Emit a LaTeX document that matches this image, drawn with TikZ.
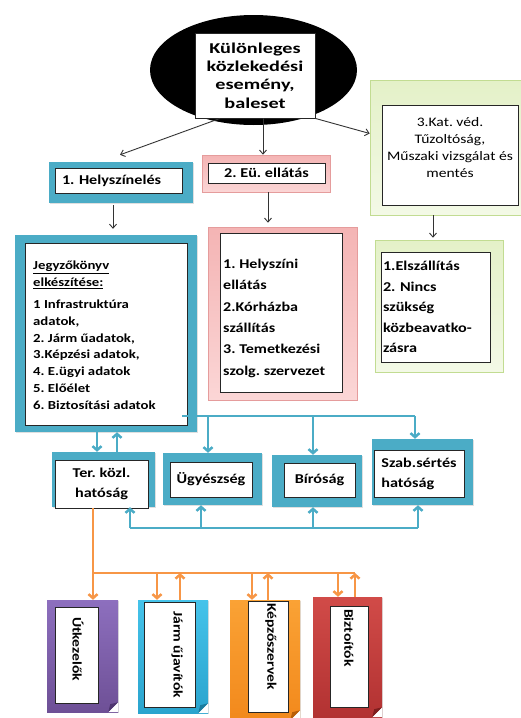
\documentclass[tikz,border=0pt]{standalone}
\usepackage{fontspec}
\setmainfont[FakeStretch=1.2]{Carlito}
\newfontfamily\topfont[FakeStretch=1.35]{Carlito}
\frenchspacing
\usetikzlibrary{shapes.geometric,arrows.meta,shadows,calc}
\definecolor{tealC}{HTML}{4BACC6}
\definecolor{orangeL}{HTML}{F79646}
\definecolor{pinkT}{HTML}{F4B4B4}
\definecolor{pinkB}{HTML}{FBD6D6}
\definecolor{pinkD}{HTML}{E59C9C}
\definecolor{greenT}{HTML}{E4F1C8}
\definecolor{greenB}{HTML}{F3F9E6}
\definecolor{greenD}{HTML}{C2DC92}
\definecolor{purpT}{HTML}{8D6FBE}
\definecolor{purpB}{HTML}{6E5096}
\definecolor{purpD}{HTML}{4E3570}
\definecolor{blueT}{HTML}{45C3EA}
\definecolor{blueB}{HTML}{2AA4CE}
\definecolor{blueD}{HTML}{1A7C9E}
\definecolor{oranT}{HTML}{FAA235}
\definecolor{oranB}{HTML}{F2891C}
\definecolor{oranD}{HTML}{B85F08}
\definecolor{redT}{HTML}{D14B48}
\definecolor{redB}{HTML}{B23232}
\definecolor{redD}{HTML}{7E1E1E}
\tikzset{
  shad/.style={drop shadow={shadow xshift=1.2pt,shadow yshift=-1.2pt,opacity=0.25}},
  tealbox/.style={shad,fill=tealC,draw=none,inner sep=0pt},
  pinkbox/.style={shad,draw=pinkD,line width=0.6pt,top color=pinkT,bottom color=pinkB,inner sep=0pt},
  greenbox/.style={shad,draw=greenD,line width=0.6pt,top color=greenT,bottom color=greenB,inner sep=0pt},
  wbox/.style={draw=black!85,line width=0.9pt,fill=white,inner sep=0pt,
    font=\bfseries\fontsize{13.5}{16}\selectfont},
  txt/.style={inner sep=0pt,anchor=north west,align=left},
  vtxt/.style={rotate=-90,anchor=west,inner sep=0pt,font=\bfseries\fontsize{13}{15}\selectfont},
  barr/.style={draw=black!80,line width=0.9pt,-{Straight Barb[length=4pt,width=7pt]}},
  tline/.style={draw=tealC,line width=2.5pt},
  tarr/.style={tline,-{Straight Barb[length=4pt,width=9pt]}},
  oline/.style={draw=orangeL,line width=2.5pt},
  oarr/.style={oline,-{Straight Barb[length=4pt,width=9pt]}},
}
\begin{document}
\begin{tikzpicture}[x=1pt,y=-1pt]
\useasboundingbox (0,0) rectangle (521,718);
\fill[white] (0,0) rectangle (521,718);

% top event
\node[ellipse,fill=black,minimum width=207pt,minimum height=110pt,inner sep=0pt] (ev) at (253.5,70) {};
\node[wbox,minimum width=120pt,minimum height=85pt,align=center,
  font=\topfont\bfseries\fontsize{15}{18.3}\selectfont] (top) at (255,75.5)
  {Különleges\\közlekedési\\esemény,\\baleset};

% level 1
\node[tealbox,minimum width=144pt,minimum height=41pt] (hely) at (121,182.5) {};
\node[wbox,minimum width=127pt,minimum height=25pt,text width=113pt,inner xsep=7pt,align=left] (helyin) at (118.5,180.5) {1. Helyszínelés};

\node[pinkbox,minimum width=128pt,minimum height=37pt] (eu) at (266,173.5) {};
\node[wbox,minimum width=117pt,minimum height=20pt] (euin) at (266.5,173) {2. Eü. ellátás};

\node[greenbox,minimum width=155pt,minimum height=135pt] (g1) at (447.5,147.5) {};
\node[wbox,minimum width=136pt,minimum height=100pt] (g1in) at (450,155) {};
\node[inner sep=0pt,align=center,font=\fontsize{13}{17}\selectfont] (g1txt) at (450,147.5)
  {3.Kat. véd.\\Tűzoltóság,\\Műszaki vizsgálat és\\mentés};

% level 2
\node[tealbox,minimum width=182pt,minimum height=197pt] (jk) at (106,333.5) {};
\node[wbox,minimum width=162pt,minimum height=182pt] (jkin) at (106,334) {};
\node[txt,font=\bfseries\fontsize{12.3}{16.8}\selectfont] (jktxt) at (33,261)
  {\underline{Jegyzőkönyv}\\\underline{elkészítése:}\\[5pt]1 Infrastruktúra\\adatok,\\2.~Járm űadatok,\\3.Képzési adatok,\\4. E.ügyi adatok\\5. Előélet\\6. Biztosítási adatok};

\node[pinkbox,minimum width=149pt,minimum height=173pt] (eu2) at (282.5,313.5) {};
\node[wbox,minimum width=122pt,minimum height=159pt] (eu2in) at (281,312.5) {};
\node[txt,font=\bfseries\fontsize{13.4}{21.3}\selectfont] (eu2txt) at (223,259)
  {1. Helyszíni\\ellátás\\2.Kórházba\\szállítás\\3. Temetkezési\\szolg. szervezet};

\node[greenbox,minimum width=128pt,minimum height=132pt] (g2) at (439,306) {};
\node[wbox,minimum width=109pt,minimum height=110pt,text width=105pt,inner xsep=2pt,align=left,
  font=\bfseries\fontsize{13.5}{20.5}\selectfont] (g2in) at (435.5,307)
  {1.Elszállítás\\2. Nincs\\szükség\\közbeavatko-\\zásra};

% authorities
\node[tealbox,minimum width=103pt,minimum height=55pt] (ter) at (103.5,479.5) {};
\node[wbox,minimum width=93pt,minimum height=48pt,align=center,font=\bfseries\fontsize{13.5}{20}\selectfont] (terin) at (101.5,484) {Ter. közl.\\hatóság};
\node[tealbox,minimum width=99pt,minimum height=52pt] (ugy) at (212.5,479) {};
\node[wbox,minimum width=82pt,minimum height=35pt] (ugyin) at (211,479.5) {Ügyészség};
\node[tealbox,minimum width=90pt,minimum height=52pt] (bir) at (317,481) {};
\node[wbox,minimum width=71pt,minimum height=34pt] (birin) at (319.5,480) {Bíróság};
\node[tealbox,minimum width=101pt,minimum height=66pt] (szab) at (422.5,472) {};
\node[wbox,minimum width=90pt,minimum height=47pt,align=left,font=\bfseries\fontsize{13.5}{20}\selectfont] (szabin) at (419,473.5) {Szab.sértés\\hatóság};

% bottom boxes
\node[shad,inner sep=0pt,top color=purpT,bottom color=purpB,minimum width=71pt,minimum height=112pt] (utk) at (82.5,656) {};
\node[shad,inner sep=0pt,top color=blueT,bottom color=blueB,minimum width=70pt,minimum height=113pt] (jav) at (173,656.5) {};
\node[shad,inner sep=0pt,top color=oranT,bottom color=oranB,minimum width=70pt,minimum height=120pt] (kep) at (265,660) {};
\node[shad,inner sep=0pt,top color=redT,bottom color=redB,minimum width=69pt,minimum height=120pt] (bzt) at (347.5,657) {};
\foreach \n/\c in {utk/purpD,jav/blueD,kep/oranD,bzt/redD}{
  \fill[white] (\n.south east) -- ($(\n.south east)+(-10,0)$) -- ($(\n.south east)+(0,-10)$) -- cycle;
  \fill[\c] ($(\n.south east)+(-10,0)$) -- ($(\n.south east)+(0,-10)$) -- ($(\n.south east)+(-8,-8)$) -- cycle;
}
\node[wbox,minimum width=43pt,minimum height=96pt] (utkin) at (76.5,655) {};
\node[wbox,minimum width=51pt,minimum height=105pt] (javin) at (169.5,654.5) {};
\node[wbox,minimum width=40pt,minimum height=111pt] (kepin) at (268,656.5) {};
\node[wbox,minimum width=38pt,minimum height=101pt] (bztin) at (349,656.5) {};
\node[vtxt] (utkt) at (78,617) {Útkezelők};
\node[vtxt] (javt) at (177,611) {Járm űjavítók};
\node[vtxt] (kept) at (271,603) {Képzőszervek};
\node[vtxt] (bztt) at (349,609) {Biztoítók};

% black arrows
\coordinate (m1) at ($(top.south)+(8,0)$);
\coordinate (m2) at (113,0);
\coordinate (m3) at (268,0);
\coordinate (m4) at (433,0);
\draw[barr] ($(top.south)+(-35,0)$) -- ($(hely.north)+(-1,-7)$);
\draw[barr] (m1) -- (m1 |- eu.north);
\draw[barr] (top.south east) -- ($(g1.west)+(0,-14)$);
\draw[barr,shorten <=2pt,shorten >=6pt] (m2 |- hely.south) -- (m2 |- jk.north);
\draw[barr,shorten >=4pt] (m3 |- eu.south) -- (m3 |- eu2.north);
\draw[barr,shorten >=2pt] (m4 |- g1.south) -- (m4 |- g2.north);

% teal connectors
\coordinate (yb) at (0,416);
\coordinate (yl) at (0,528);
\coordinate (xu) at (208,0);
\coordinate (xb) at (313,0);
\coordinate (xs) at (415,0);
\coordinate (xd) at (97,0);
\coordinate (xe) at (117,0);
\coordinate (xl1) at (130,0);
\coordinate (xl2) at (201,0);
\coordinate (xl4) at (418,0);
\draw[tline] ($(jkin.east |- yb)+(-5,0)$) -- (xs |- yb);
\draw[tarr] (xu |- yb) -- (xu |- ugy.north);
\draw[tarr] (xb |- yb) -- (xb |- bir.north);
\draw[tarr] (xs |- yb) -- (xs |- szab.north);
\draw[tarr] (xd |- jk.south) -- (xd |- ter.north);
\draw[tarr] (xe |- ter.north) -- (xe |- jk.south);
\draw[tline] (xl1 |- yl) -- (xl4 |- yl);
\draw[tarr] (xl1 |- yl) -- (xl1 |- ter.south);
\draw[tarr] (xl2 |- yl) -- (xl2 |- ugy.south);
\draw[tarr] (xb |- yl) -- (xb |- bir.south);
\draw[tarr] (xl4 |- yl) -- (xl4 |- szab.south);

% orange connectors
\coordinate (yo) at (0,573);
\coordinate (o1) at (93,0);
\coordinate (o2) at (157,0);
\coordinate (o3) at (180,0);
\coordinate (o4) at (252,0);
\coordinate (o5) at (268,0);
\coordinate (o6) at (338,0);
\coordinate (o7) at (355,0);
\draw[oline] (o1 |- terin.south) -- (o1 |- yo) -- (o7 |- yo);
\draw[oarr] (o1 |- yo) -- (o1 |- utk.north);
\draw[oarr] (o2 |- yo) -- (o2 |- jav.north);
\draw[oarr] (o3 |- jav.north) -- (o3 |- yo);
\draw[oarr] (o4 |- yo) -- (o4 |- kep.north);
\draw[oarr] (o5 |- kep.north) -- (o5 |- yo);
\draw[oarr] (o6 |- yo) -- (o6 |- bzt.north);
\draw[oarr] (o7 |- bzt.north) -- (o7 |- yo);
\end{tikzpicture}
\end{document}
